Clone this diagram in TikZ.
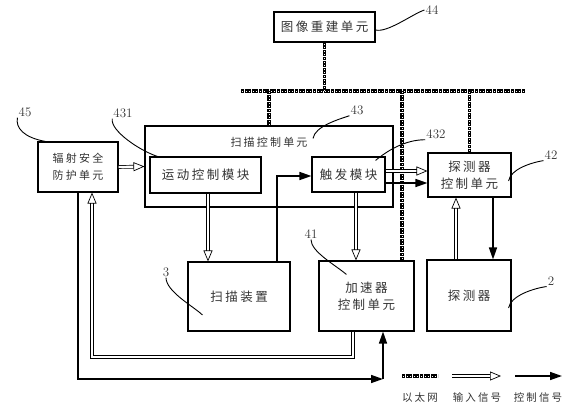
\documentclass[tikz,border=0pt]{standalone}
\usepackage{fontspec}
\newfontfamily\cjk[LetterSpace=20]{Noto Sans CJK SC}
\usetikzlibrary{arrows.meta}

\begin{document}
\begin{tikzpicture}[x=1pt,y=-1pt,>=Stealth,
  every node/.style={font=\cjk\fontsize{12.5}{17}\selectfont,text=black!80},
  box/.style={draw,line width=1.1pt,align=center,inner sep=0pt},
  small/.style={font=\cjk\fontsize{11}{17}\selectfont},
  num/.style={font=\fontsize{13}{15}\selectfont,inner sep=1pt},
  lead/.style={line width=0.9pt},
  inarrow/.style={double,double distance=2.2pt,line width=0.7pt,-{Triangle[open,length=11pt,width=9pt]}},
  ctrl/.style={line width=1.5pt,-{Triangle[length=12pt,width=8pt]}},
  ether/.style={line width=3.4pt,dash pattern=on 3pt off 0.6pt,
    postaction={draw=white,line width=1pt,dash pattern=on 1pt off 2.6pt,dash phase=2.6pt}}]
\useasboundingbox (0,0) rectangle (568,418);

% boxes
\node[box,minimum width=101pt,minimum height=30pt] (recon) at (324.5,27) {图像重建单元};
\node[box,minimum width=248pt,minimum height=81pt] (scanctl) at (269,166.5) {};
\node[small] (scantitle) at (269,142) {扫描控制单元};
\node[box,small,minimum width=80pt,minimum height=50pt] (safety) at (78,167) {辐射安全\\防护单元};
\node[box,minimum width=111pt,minimum height=36pt] (motion) at (205.5,175) {运动控制模块};
\node[box,minimum width=73pt,minimum height=35pt] (trigger) at (348.5,174.5) {触发模块};
\node[box,minimum width=83pt,minimum height=44pt] (detctl) at (469.5,175) {探测器\\控制单元};
\node[box,minimum width=102pt,minimum height=69pt] (scanner) at (239,296.5) {扫描装置};
\node[box,minimum width=95pt,minimum height=70pt] (accel) at (366.5,296) {加速器\\控制单元};
\node[box,minimum width=84pt,minimum height=71pt] (detector) at (469,295.5) {探测器};

% numbers
\node[num] (l44) at (432,10) {44};
\node[num] (l45) at (25,112) {45};
\node[num] (l431) at (123,113) {431};
\node[num] (l43) at (357,110) {43};
\node[num] (l432) at (436,134) {432};
\node[num] (l42) at (551,155) {42};
\node[num] (l3) at (166,272) {3};
\node[num] (l41) at (311,234) {41};
\node[num] (l2) at (551,281) {2};

\draw[lead] (l44.west) .. controls +(-12,4) and +(12,3) .. ([yshift=-3pt]recon.east);
\draw[lead] (l45.south west) .. controls +(-2,10) and +(-22,-4) .. ([xshift=8pt]safety.north west);
\draw[lead] (l431.south west) .. controls +(-2,12) and +(-18,-6) .. ([xshift=8pt]motion.north west);
\draw[lead] (l43.south west) .. controls +(-12,4) and +(2,-12) .. ([xshift=44pt,yshift=-13pt]scanctl.north);
\draw[lead] (l432.south west) .. controls +(-20,0) and +(12,-10) .. ([xshift=-10pt,yshift=-4pt]trigger.north east);
\draw[lead] (l42.south west) .. controls +(-12,2) and +(2,-12) .. ([xshift=-3pt,yshift=-6pt]detctl.east);
\draw[lead] (l3.south) .. controls +(0,14) and +(-8,-8) .. ([xshift=15pt,yshift=-18.5pt]scanner.west);
\draw[lead] (l41.south) .. controls +(0,12) and +(-12,-10) .. ([xshift=28pt,yshift=-14pt]accel.north west);
\draw[lead] (l2.south west) .. controls +(-14,2) and +(2,-12) .. ([xshift=-3pt,yshift=-12.5pt]detector.east);

% ethernet
\coordinate (busL) at (241,91);
\coordinate (busR) at (525,91);
\draw[ether] (busL) -- (busR);
\draw[ether] (recon.south) -- (recon.south |- busL);
\draw[ether] (scanctl.north |- busL) -- (scanctl.north);
\draw[ether] (402,91) -- (402,261);
\draw[ether] (detctl.north |- busL) -- (detctl.north);

% signals
\draw[inarrow] (safety.east) -- (scanctl.west);
\draw[inarrow] ([xshift=2.5pt]motion.south) -- ([xshift=2.5pt]motion.south |- scanner.north);
\draw[ctrl] ([xshift=38pt]scanner.north) |- ([yshift=-1.5pt]trigger.west);
\draw[inarrow] ([xshift=7.5pt]trigger.south) -- ([xshift=7.5pt]trigger.south |- accel.north);
\draw[inarrow] ([yshift=3.5pt]trigger.east) -- ([yshift=3.5pt]trigger.east -| detctl.west);
\draw[ctrl] ([yshift=-8.5pt]trigger.east) -- ([yshift=-8.5pt]trigger.east -| detctl.west);
\draw[inarrow] ([xshift=-13pt]detector.north) -- ([xshift=-13pt]detector.north |- detctl.south);
\draw[ctrl] ([xshift=23.5pt]detctl.south) -- ([xshift=23.5pt]detctl.south |- detector.north);
\coordinate (loopR) at (353,357);
\coordinate (loopL) at (92,357);
\draw[inarrow] (loopR |- accel.south) -- (loopR) -- (loopL) -- (loopL |- safety.south);
\coordinate (corner) at (383,379);
\draw[ctrl] (safety.south) |- (corner);
\draw[ctrl] (corner) -- (corner |- accel.south);

% legend
\coordinate (e1) at (402,376);
\coordinate (e2) at (438,376);
\coordinate (i1) at (452,376);
\coordinate (i2) at (501,376);
\coordinate (c1) at (515,376);
\coordinate (c2) at (562,376);
\draw[ether] (e1) -- (e2);
\draw[inarrow] (i1) -- (i2);
\draw[ctrl] (c1) -- (c2);
\node[font=\cjk\fontsize{10.5}{12}\selectfont] (leth) at (420,398) {以太网};
\node[font=\cjk\fontsize{10.5}{12}\selectfont] (lin) at (477,398) {输入信号};
\node[font=\cjk\fontsize{10.5}{12}\selectfont] (lctl) at (538,398) {控制信号};
\end{tikzpicture}
\end{document}
